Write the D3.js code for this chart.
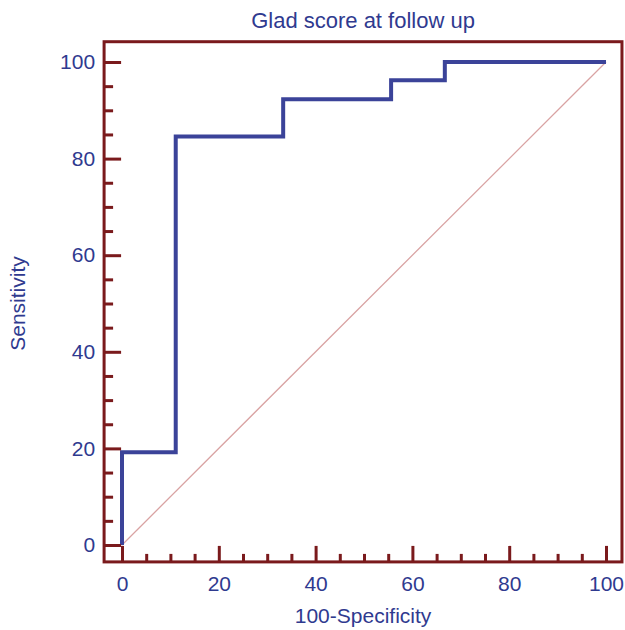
<!DOCTYPE html>
<html>
<head>
<meta charset="utf-8">
<script src="https://cdn.jsdelivr.net/npm/d3@7"></script>
<style>
  body { margin: 0; background: #fff; }
  svg text { font-family: "Liberation Sans", Arial, sans-serif; fill: #2f3a8f; }
</style>
</head>
<body>
<div id="roc"></div>
<script>
// ROC curve values (100-Specificity, Sensitivity)
var specPts = [0, 0, 11.1, 11.1, 33.3, 33.3, 55.6, 55.6, 66.7, 66.7, 100];
var sensPts = [0, 19.2, 19.2, 84.6, 84.6, 92.3, 92.3, 96.2, 96.2, 100, 100];
var majorTicks = [0, 20, 40, 60, 80, 100];
var minorTicks = [5, 10, 15, 25, 30, 35, 45, 50, 55, 65, 70, 75, 85, 90, 95];

var w = 625, h = 630;
var frameCol = "#7a1a1c",
    curveCol = "#3b4399",
    diagCol = "#d9a3a3";

var svg = d3.select("#roc").append("svg")
  .attr("width", w)
  .attr("height", h);

var xScale = d3.scaleLinear().domain([0, 100]).range([122, 606]);
var yScale = d3.scaleLinear().domain([0, 100]).range([545, 62]);

var x0 = xScale(-3.7), x1 = xScale(103.3);
var y0 = yScale(-3.5), y1 = yScale(104.2);

// diagonal reference line
svg.append("line")
  .attr("x1", xScale(0)).attr("y1", yScale(0))
  .attr("x2", xScale(100)).attr("y2", yScale(100))
  .attr("stroke", diagCol)
  .attr("stroke-width", 1.3);

// ROC step curve
var rocData = specPts.map(function(d, i) { return [d, sensPts[i]]; });
var line = d3.line()
  .x(function(d) { return xScale(d[0]); })
  .y(function(d) { return yScale(d[1]); });
svg.append("path")
  .datum(rocData)
  .attr("d", line)
  .attr("fill", "none")
  .attr("stroke", curveCol)
  .attr("stroke-width", 4)
  .attr("stroke-linejoin", "miter");

// axes, ticks pointing inward
function styleAxis(g) {
  g.select(".domain").remove();
  g.selectAll(".tick line").attr("stroke", frameCol).attr("stroke-width", 3);
  g.selectAll(".tick text").attr("font-size", 21).attr("fill", "#2f3a8f");
}

svg.append("g")
  .attr("transform", "translate(" + x0 + ",0)")
  .call(d3.axisLeft(yScale).tickValues(minorTicks).tickSize(-9).tickFormat(""))
  .call(styleAxis);
svg.append("g")
  .attr("transform", "translate(" + x0 + ",0)")
  .call(d3.axisLeft(yScale).tickValues(majorTicks).tickSize(-17).tickPadding(9))
  .call(styleAxis);

svg.append("g")
  .attr("transform", "translate(0," + y0 + ")")
  .call(d3.axisBottom(xScale).tickValues(minorTicks).tickSize(-8).tickFormat(""))
  .call(styleAxis);
svg.append("g")
  .attr("transform", "translate(0," + y0 + ")")
  .call(d3.axisBottom(xScale).tickValues(majorTicks).tickSize(-16).tickPadding(14))
  .call(styleAxis);

// frame
svg.append("rect")
  .attr("x", x0).attr("y", y1)
  .attr("width", x1 - x0).attr("height", y0 - y1)
  .attr("fill", "none")
  .attr("stroke", frameCol)
  .attr("stroke-width", 3);

// titles
svg.append("text")
  .attr("x", (x0 + x1) / 2)
  .attr("y", 28)
  .attr("text-anchor", "middle")
  .attr("font-size", 22)
  .text("Glad score at follow up");

svg.append("text")
  .attr("x", (x0 + x1) / 2)
  .attr("y", 623)
  .attr("text-anchor", "middle")
  .attr("font-size", 21)
  .text("100-Specificity");

svg.append("text")
  .attr("transform", "translate(25," + yScale(50) + ")rotate(-90)")
  .attr("text-anchor", "middle")
  .attr("font-size", 21)
  .text("Sensitivity");
</script>
</body>
</html>
